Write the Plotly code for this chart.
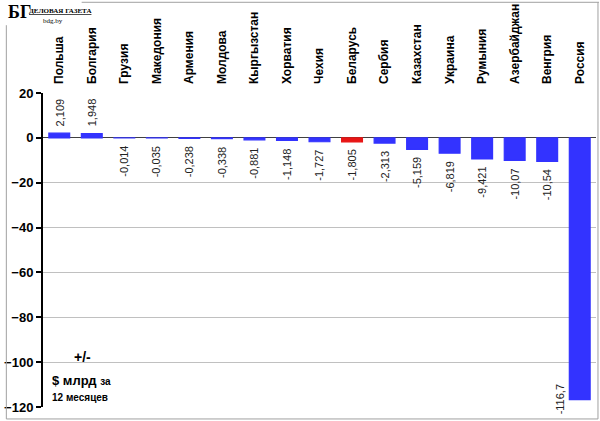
import plotly.graph_objects as go

countries = ["Польша", "Болгария", "Грузия", "Македония", "Армения", "Молдова",
             "Кыргызстан", "Хорватия", "Чехия", "Беларусь", "Сербия", "Казахстан",
             "Украина", "Румыния", "Азербайджан", "Венгрия", "Россия"]
values = [2.109, 1.948, -0.014, -0.035, -0.238, -0.338, -0.881, -1.148, -1.727,
          -1.805, -2.313, -5.159, -6.819, -9.421, -10.07, -10.54, -116.7]
highlight = "Беларусь"
y_ticks = [20, 0, -20, -40, -60, -80, -100, -120]

W, H = 600, 421
L, R, T, B = 38, 4, 92, 14
PW, PH = W - L - R, H - T - B

def px(x):
    return (x - L) / PW

def py(y):
    return (H - B - y) / PH

def fmt(v):
    return str(v).replace(".", ",")

colors = ["#E81515" if c == highlight else "#3333FF" for c in countries]

fig = go.Figure()
fig.add_trace(go.Bar(
    x=countries, y=values,
    marker=dict(color=colors, line=dict(color=colors, width=1.2)),
    cliponaxis=False, width=0.64, hoverinfo="x+y",
))

label_font = dict(family="Arial, Liberation Sans", size=11, color="#222222")
last = len(values) - 1
for i, (c, v) in enumerate(zip(countries, values)):
    if i == last:
        fig.add_annotation(x=c, y=v, text=fmt(v), textangle=-90, showarrow=False,
                           xshift=-20, yanchor="middle", font=label_font)
    elif v >= 0:
        fig.add_annotation(x=c, y=v, text=fmt(v), textangle=-90, showarrow=False,
                           yanchor="bottom", yshift=5, xshift=1, font=label_font)
    else:
        fig.add_annotation(x=c, y=v, text=fmt(v), textangle=-90, showarrow=False,
                           yanchor="top", yshift=-6, font=label_font)

fig.update_layout(
    width=W, height=H, margin=dict(l=L, r=R, t=T, b=B),
    paper_bgcolor="white", plot_bgcolor="white", showlegend=False,
    xaxis=dict(side="top", tickangle=-90, showgrid=False, showline=False, ticks="",
               tickfont=dict(family="Arial, Liberation Sans", size=12, color="black", weight="bold"),
               ticklabelstandoff=8),
    yaxis=dict(range=[-120, 20], tickvals=y_ticks, showgrid=True, gridcolor="#C0C0C0",
               gridwidth=1, showline=True, linecolor="black", linewidth=2,
               ticks="outside", ticklen=5, tickcolor="black", tickwidth=2,
               zeroline=True, zerolinecolor="#404040", zerolinewidth=1,
               tickfont=dict(family="Arial, Liberation Sans", size=13, color="black", weight="bold")),
)

# frame around the picture
border = dict(color="#A0A0A0", width=1)
fig.add_shape(type="line", xref="paper", yref="paper", x0=px(77), x1=px(599), y0=py(1), y1=py(1), line=border)
fig.add_shape(type="line", xref="paper", yref="paper", x0=px(598), x1=px(598), y0=py(1), y1=py(419), line=border)
fig.add_shape(type="line", xref="paper", yref="paper", x0=px(1), x1=px(598), y0=py(419), y1=py(419), line=border)
fig.add_shape(type="line", xref="paper", yref="paper", x0=px(1), x1=px(1), y0=py(24), y1=py(419), line=border)

# logo
fig.add_annotation(xref="paper", yref="paper", x=px(1), y=py(-1), xanchor="left", yanchor="top",
                   text="<b>БГ</b>", showarrow=False,
                   font=dict(family="Liberation Serif, DejaVu Serif", size=18, color="black"))
fig.add_annotation(xref="paper", yref="paper", x=px(22), y=py(4), xanchor="left", yanchor="top",
                   text="<u><b>ДЕЛОВАЯ ГАЗЕТА</b></u>", showarrow=False,
                   font=dict(family="Liberation Serif, DejaVu Serif", size=7, color="black"))
fig.add_annotation(xref="paper", yref="paper", x=px(48), y=py(14), xanchor="center", yanchor="top",
                   text="bdg.by", showarrow=False,
                   font=dict(family="Liberation Serif, DejaVu Serif", size=7, color="black"))

# units note
fig.add_annotation(xref="paper", yref="paper", x=px(78), y=py(357), xanchor="center", yanchor="middle",
                   text="<b>+/-</b>", showarrow=False,
                   font=dict(family="Arial, Liberation Sans", size=14, color="black"))
fig.add_annotation(xref="paper", yref="paper", x=px(45), y=py(380), xanchor="left", yanchor="middle",
                   text="<b>$ млрд</b> <b><span style='font-size:10px'>за</span></b>", showarrow=False,
                   font=dict(family="Arial, Liberation Sans", size=13, color="black"))
fig.add_annotation(xref="paper", yref="paper", x=px(45), y=py(397), xanchor="left", yanchor="middle",
                   text="<b>12 месяцев</b>", showarrow=False,
                   font=dict(family="Arial, Liberation Sans", size=10, color="black"))

fig.write_html("out.html", config={"displayModeBar": False},
               post_script="document.body.style.margin='0px';")
